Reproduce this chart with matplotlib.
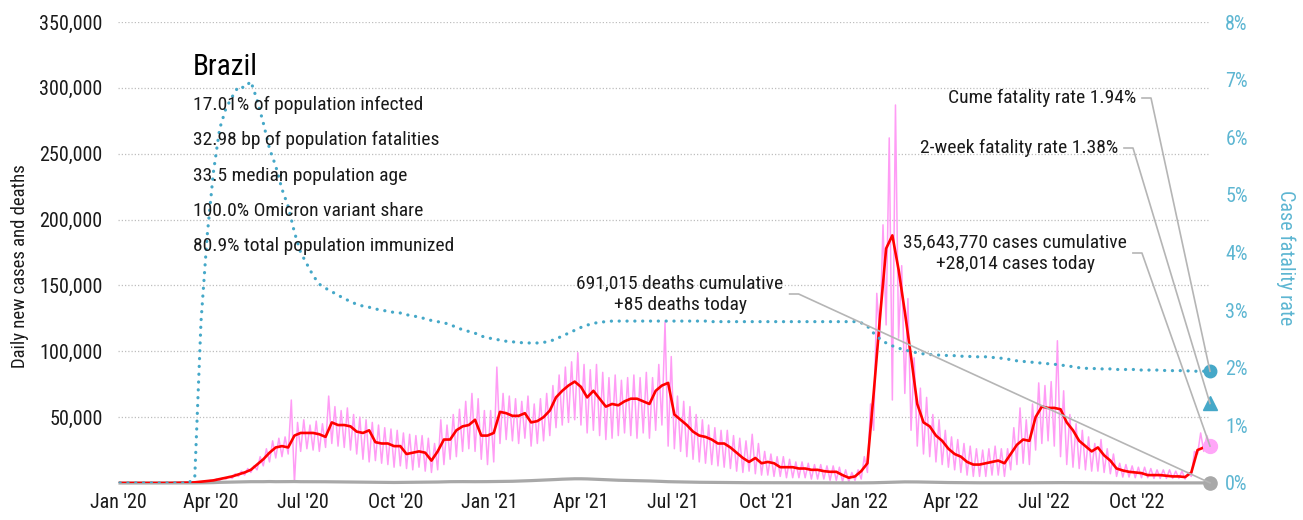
import numpy as np
import pandas as pd
import matplotlib as mpl
mpl.use('Agg')
import matplotlib.pyplot as plt
import matplotlib.dates as mdates
from matplotlib import font_manager
from matplotlib.lines import Line2D
from matplotlib.transforms import IdentityTransform

# evenly spaced samples, new cases / deaths in thousands
cases_avg = [0, 0, 0, 0, 0, 0, 0, 0, 0, 0.1, 0.2, 0.3, 0.5,
             1.0, 1.5, 2, 3, 4, 5, 6.5, 8, 10, 14, 18, 23, 27, 28, 27,
             36, 38, 38, 38, 37, 35, 46, 44, 44, 43, 39, 38, 40, 31, 30, 30, 28, 28, 22, 23, 24, 23, 17,
             24, 33, 33, 40, 43, 44, 48, 36, 36, 38, 54, 53, 51, 51, 53, 46, 47, 50, 55, 65, 70, 74, 77, 73, 65,
             70, 64, 58, 60, 59, 62, 64, 64, 62, 60, 70, 74, 76, 52, 48, 44, 39, 36, 35, 33, 30, 30, 27, 23, 19,
             16, 19, 15, 16, 15, 12, 12, 12, 11, 11, 10, 10, 9, 8.5, 8.5, 6, 4, 5, 9, 15, 68, 125, 178, 188, 162,
             130, 96, 60, 46, 43, 36, 32, 26, 22, 20, 16, 14, 14, 15, 16, 17, 15, 22, 29, 33, 32, 50, 58, 57, 57,
             56, 46, 40, 32, 28, 24, 27, 21, 17, 11, 9.5, 8.5, 8, 7.5, 6, 6, 6, 5.5, 5, 5, 4.5, 8, 25, 27, 27]

# daily reports: weekday peak and weekend trough of each interval
cases_hi = [0, 0, 0, 0, 0, 0, 0, 0, 0, 0.2, 0.3, 0.5, 0.8,
            1.5, 2, 3, 4, 5, 7, 9, 11, 13, 20, 26, 32, 34, 35, 63,
            46, 48, 44, 47, 45, 66, 58, 55, 57, 52, 50, 48, 46, 44, 42, 41, 40, 38, 37, 36, 36, 34, 30,
            48, 44, 52, 56, 62, 68, 64, 55, 55, 88, 68, 66, 64, 62, 66, 60, 64, 68, 74, 82, 88, 92, 99, 90, 86,
            90, 84, 80, 82, 78, 80, 82, 80, 84, 80, 90, 122, 96, 66, 62, 58, 52, 48, 44, 42, 40, 40, 36, 34, 32,
            37, 30, 24, 22, 20, 20, 18, 16, 16, 15, 14, 14, 13, 13, 12, 10, 8, 10, 20, 60, 144, 196, 262, 287, 165,
            140, 95, 72, 65, 52, 48, 40, 35, 33, 30, 28, 26, 25, 26, 28, 26, 26, 42, 57, 48, 60, 76, 74, 77, 108,
            70, 52, 45, 40, 35, 30, 33, 26, 22, 15, 14, 13, 12, 12, 11, 10, 10, 10, 9, 9, 8, 24, 38, 36]
cases_lo = [0, 0, 0, 0, 0, 0, 0, 0, 0, 0, 0.1, 0.2, 0.3,
            0.5, 1, 1.5, 2, 3, 3.5, 5, 6, 8, 10, 13, 16, 19, 20, 22,
            0, 24, 26, 25, 24, 27, 30, 28, 27, 25, 22, 18, 16, 17, 15, 14, 12, 13, 11, 10, 12, 9, 8,
            10, 14, 18, 20, 24, 26, 24, 18, 14, 16, 30, 33, 32, 30, 34, 28, 30, 32, 36, 42, 44, 46, 48, 44, 38,
            40, 36, 33, 34, 36, 38, 36, 34, 38, 34, 40, 44, 28, 26, 24, 20, 18, 16, 15, 14, 13, 12, 11, 9, 8,
            9, 7, 6, 6, 5, 5, 4, 4, 4, 4, 3, 3, 3, 2, 2, 1, 1, 2, 3, 8, 40, 110, 120, 63, 110,
            68, 40, 28, 22, 20, 16, 14, 12, 10, 8, 6, 5, 5, 5, 6, 6, 5, 10, 14, 15, 14, 25, 30, 32, 28,
            20, 14, 12, 11, 10, 9, 9, 8, 7, 5, 4.5, 4.5, 4, 4, 4, 3.5, 3.5, 3.5, 3.5, 3.5, 3, 5, 22, 24]

deaths_avg = [0] * 12 + \
    [0.05, 0.1, 0.2, 0.3, 0.5, 0.6, 0.7, 0.8, 0.9, 1.0, 1.0, 1.0, 1.1, 1.0, 1.0, 1.05,
     1.1, 1.0, 1.0, 1.0, 1.0, 0.95, 0.9, 0.85, 0.8, 0.75, 0.7, 0.65, 0.6, 0.5, 0.45, 0.45, 0.4, 0.45, 0.5, 0.6, 0.65, 0.7, 0.7,
     0.75, 0.9, 1.0, 1.05, 1.05, 1.0, 1.0, 1.0, 1.05, 1.1, 1.1, 1.2, 1.3, 1.45, 1.6, 1.8, 2.0, 2.2, 2.4, 2.65, 2.9, 3.05, 3.2, 3.2, 3.1,
     2.9, 2.7, 2.5, 2.3, 2.1, 2.0, 1.9, 1.8, 1.7, 1.55, 1.4, 1.2, 1.0, 0.9, 0.8, 0.7, 0.6, 0.55, 0.5, 0.45, 0.4, 0.35, 0.3, 0.28, 0.25,
     0.23, 0.22, 0.2, 0.18, 0.16, 0.15, 0.14, 0.12, 0.12, 0.11, 0.1, 0.1, 0.1, 0.1, 0.1, 0.1, 0.1, 0.11, 0.12, 0.15, 0.2, 0.3, 0.45, 0.6, 0.75,
     0.85, 0.85, 0.8, 0.7, 0.6, 0.5, 0.4, 0.35, 0.3, 0.25, 0.2, 0.18, 0.15, 0.14, 0.13, 0.12, 0.12, 0.12, 0.13, 0.15, 0.18, 0.2, 0.25, 0.28, 0.28,
     0.27, 0.25, 0.22, 0.2, 0.18, 0.15, 0.14, 0.12, 0.1, 0.1, 0.09, 0.08, 0.08, 0.07, 0.07, 0.07, 0.06, 0.06, 0.06, 0.06, 0.06, 0.07, 0.09, 0.1, 0.085]

# cumulative case fatality rate, %
cfr_cum = [0] * 12 + \
    [0.1, 2.8, 4.3, 5.4, 6.15, 6.5, 6.7, 6.88, 6.86, 6.97, 6.65, 6.25, 5.8, 5.5, 5.1, 4.8,
     4.35, 4.0, 3.8, 3.6, 3.45, 3.38, 3.32, 3.26, 3.2, 3.15, 3.1, 3.07, 3.05, 3.02, 3.0, 2.98, 2.96, 2.95, 2.92, 2.9, 2.88, 2.85, 2.82,
     2.8, 2.78, 2.75, 2.7, 2.66, 2.63, 2.6, 2.55, 2.52, 2.5, 2.48, 2.46, 2.45, 2.44, 2.43, 2.43, 2.43, 2.44, 2.46, 2.5, 2.55, 2.6, 2.65, 2.7, 2.74,
     2.77, 2.79, 2.8, 2.81, 2.81, 2.81, 2.81, 2.81, 2.81, 2.81, 2.81, 2.81, 2.81, 2.81, 2.81, 2.81, 2.81, 2.81, 2.81, 2.8, 2.8, 2.8, 2.8, 2.8, 2.8,
     2.8, 2.8, 2.8, 2.8, 2.8, 2.8, 2.8, 2.8, 2.8, 2.8, 2.8, 2.8, 2.8, 2.8, 2.8, 2.8, 2.8, 2.8, 2.78, 2.72, 2.6, 2.5, 2.43, 2.38, 2.34,
     2.31, 2.28, 2.26, 2.24, 2.23, 2.22, 2.22, 2.21, 2.21, 2.2, 2.2, 2.19, 2.19, 2.19, 2.18, 2.17, 2.16, 2.14, 2.12, 2.11, 2.1, 2.09, 2.08, 2.07, 2.06,
     2.05, 2.03, 2.02, 2.0, 1.99, 1.99, 1.98, 1.98, 1.98, 1.97, 1.97, 1.97, 1.97, 1.96, 1.96, 1.96, 1.96, 1.95, 1.95, 1.95, 1.95, 1.94, 1.94, 1.94, 1.94]

first_day = '2020-01-03'
last_day = '2022-12-12'
cases_today = 28014
deaths_today = 85
cfr_2wk = 1.38
cases_total = 35643770
deaths_total = 691015

country = "Brazil"
facts = ["17.01% of population infected",
         "32.98 bp of population fatalities",
         "33.5 median population age",
         "100.0% Omicron variant share",
         "80.9% total population immunized"]

PINK = '#FF9CF5'
RED = '#FF0000'
GREY = '#A8A8A8'
TEAL = '#45A8C8'
TEAL_TXT = '#5DB6D2'
LEAD = '#B5B5B5'
INK = '#1A1A1A'

installed = {f.name for f in font_manager.fontManager.ttflist}
narrow = next((f for f in ['Liberation Sans Narrow', 'Roboto Condensed', 'Open Sans Condensed',
                           'Noto Sans Condensed', 'DejaVu Sans Condensed'] if f in installed), 'DejaVu Sans')
plt.rcParams['font.family'] = [narrow, 'DejaVu Sans']
plt.rcParams['font.stretch'] = 'condensed'

W, H = 1303, 520
def fx(px): return px / W
def fy(py): return 1 - py / H

dates = pd.date_range(first_day, last_day, periods=len(cases_avg))
half = (dates[1] - dates[0]) / 2
daily_x, daily_y = [], []
for d, lo, hi in zip(dates, cases_lo, cases_hi):
    daily_x += [d, d + half]
    daily_y += [lo, hi]
daily_x.append(dates[-1])
daily_y.append(cases_today / 1000)

fig = plt.figure(figsize=(W / 100, H / 100), dpi=100)
ax = fig.add_axes([fx(118), 1 - 483 / H, fx(1210) - fx(118), (483 - 22) / H])
ax2 = ax.twinx()

ax.plot(daily_x, np.array(daily_y) * 1000, color=PINK, lw=1.1, zorder=2)
ax.plot(dates, np.array(deaths_avg) * 1000, color=GREY, lw=2.3, zorder=2, clip_on=False)
ax.plot(dates, np.array(cases_avg) * 1000, color=RED, lw=1.9, zorder=3)
ax2.plot(dates, cfr_cum, color=TEAL, lw=2.3, ls=(0, (0.05, 2.4)), dash_capstyle='round')

ax.set_xlim(pd.Timestamp('2020-01-01'), dates[-1])
ax.set_ylim(0, 350000)
ax2.set_ylim(0, 8)

xt = pd.date_range('2020-01-01', '2022-10-01', freq='QS')
ax.set_xticks(xt)
ax.set_xticklabels([d.strftime("%b '%y") for d in xt])
yt = np.arange(50000, 350001, 50000)
ax.set_yticks(yt)
ax.set_yticklabels([f'{v:,.0f}' for v in yt])
ax2.set_yticks(range(0, 9))
ax2.set_yticklabels([f'{v}%' for v in range(0, 9)])

ax.grid(axis='y', color='#BEBEBE', ls=(0, (1, 1.6)), lw=0.9)
ax.set_axisbelow(True)
for a in (ax, ax2):
    for s in a.spines.values():
        s.set_visible(False)
ax.tick_params(axis='x', length=0, pad=7, labelsize=14.5, labelcolor=INK)
ax.tick_params(axis='y', length=0, pad=11, labelsize=14.5, labelcolor=INK)
ax2.tick_params(axis='y', length=0, pad=11, labelsize=14.5, labelcolor=TEAL_TXT)

fig.text(fx(20), fy(266), 'Daily new cases and deaths', rotation=90,
         ha='center', va='center', fontsize=13.5, color=INK)
fig.text(fx(1286), fy(258), 'Case fatality rate', rotation=270,
         ha='center', va='center', fontsize=14.5, color=TEAL_TXT)

# end-of-series markers
xe = dates[-1]
ax2.plot([xe], [cfr_cum[-1]], 'o', ms=9, color=TEAL, clip_on=False, zorder=6)
ax2.plot([xe], [cfr_2wk], '^', ms=10, color=TEAL, clip_on=False, zorder=6)
ax.plot([xe], [cases_today], 'o', ms=10, color='#FFA6F8', clip_on=False, zorder=5)
ax.plot([xe], [deaths_today], 'o', ms=9.5, color=GREY, clip_on=False, zorder=5)

# title block
fig.text(fx(193), fy(67), country, ha='left', va='center', fontsize=21, color='black')
for k, line in enumerate(facts):
    fig.text(fx(193), fy(105 + 35.3 * k), line, ha='left', va='center', fontsize=14, color=INK)

labels = [
    (f'Cume fatality rate {cfr_cum[-1]:.2f}%', 1136, 98, 'right', ax2, cfr_cum[-1]),
    (f'2-week fatality rate {cfr_2wk:.2f}%', 1118, 148, 'right', ax2, cfr_2wk),
    (f'{cases_total:,} cases cumulative\n+{cases_today:,} cases today', 1015, 253, 'center',
     ax, cases_today),
    (f'{deaths_total:,} deaths cumulative\n+{deaths_today:,} deaths today', 680, 294, 'center',
     ax, deaths_today),
]
texts = []
for txt, px, py, ha, a, v in labels:
    t = fig.text(fx(px), fy(py), txt, ha=ha, va='center', ma='center', fontsize=14,
                 color=INK, linespacing=1.3)
    texts.append((t, a, v))

fig.canvas.draw()
r = fig.canvas.get_renderer()
xnum = mdates.date2num(xe)
for t, a, v in texts:
    bb = t.get_window_extent(r)
    x0 = bb.x1 + 6
    y0 = (bb.y0 + bb.y1) / 2
    mx, my = a.transData.transform((xnum, v))
    fig.add_artist(Line2D([x0, x0 + 9, mx], [y0, y0, my], transform=IdentityTransform(),
                          color=LEAD, lw=1.2, zorder=10))

fig.savefig('out.png', dpi=100)
